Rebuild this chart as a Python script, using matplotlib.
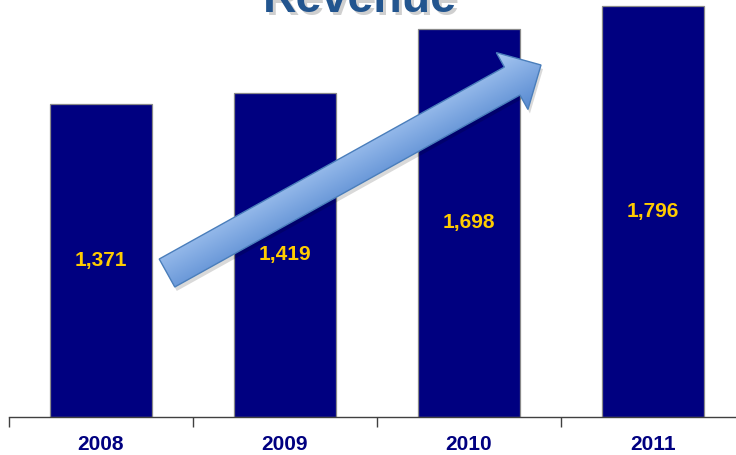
import numpy as np
import matplotlib
matplotlib.use("Agg")
import matplotlib.pyplot as plt
from matplotlib.patches import Polygon

years = ["2008", "2009", "2010", "2011"]
revenue = [1371, 1419, 1698, 1796]
value_labels = ["1,371", "1,419", "1,698", "1,796"]
title = "Revenue"

W, H = 736, 455
fig = plt.figure(figsize=(W / 100, H / 100), dpi=100)
plt.rcParams['font.family'] = ['Liberation Sans', 'DejaVu Sans']

# main axes: category boundaries at x=9..745 px, baseline at y=417 px
ax = fig.add_axes([9 / W, (H - 417) / H, 736 / W, 417 / H])
x = np.arange(len(years))
ax.bar(x, revenue, width=0.555, color='#000080', edgecolor='#8a8a8a', linewidth=0.9, zorder=2)
ax.set_xlim(-0.5, 3.5)
ax.set_ylim(0, 1824)
for xi, v, lab in zip(x, revenue, value_labels):
    ax.text(xi, v / 2, lab, ha='center', va='center', color='#FFCC00',
            fontsize=15, fontweight='bold', zorder=5)

for s in ['top', 'right', 'left']:
    ax.spines[s].set_visible(False)
ax.spines['bottom'].set_color('#404040')
ax.spines['bottom'].set_linewidth(1.0)
ax.set_yticks([])
ax.set_xticks(np.arange(-0.5, 4.0, 1.0))
ax.set_xticklabels([])
ax.set_xticks(x, minor=True)
ax.set_xticklabels(years, minor=True)
ax.tick_params(axis='x', which='major', length=7, width=1.0, color='#404040', direction='out')
ax.tick_params(axis='x', which='minor', length=0, pad=13, labelsize=15, labelcolor='#000080')
for t in ax.get_xticklabels(minor=True):
    t.set_fontweight('bold')

# overlay axes in pixel coordinates for the decorative arrow
ov = fig.add_axes([0, 0, 1, 1])
ov.set_xlim(0, W)
ov.set_ylim(H, 0)
ov.axis('off')

tail = np.array([167.0, 273.0])
tip = np.array([541.0, 65.0])
d = tip - tail
L = np.hypot(*d)
u = d / L
n = np.array([u[1], -u[0]])
shaft_w, head_w, head_l = 32.0, 65.0, 33.0
base = tip - u * head_l
pts = np.array([
    tail + n * shaft_w / 2,
    base + n * shaft_w / 2,
    base + n * head_w / 2,
    tip,
    base - n * head_w / 2,
    base - n * shaft_w / 2,
    tail - n * shaft_w / 2,
])
shadow = Polygon(pts + np.array([2, 4]), closed=True, facecolor='#000000', alpha=0.15,
                 edgecolor='none', zorder=3)
ov.add_patch(shadow)
poly = Polygon(pts, closed=True, facecolor='none', edgecolor='#4a7ebb', linewidth=1.0, zorder=5)
ov.add_patch(poly)

yy, xx = np.mgrid[0:H, 0:W]
proj = ((xx - tail[0]) * n[0] + (yy - tail[1]) * n[1]) / (head_w / 2)
t = np.clip((1 - proj) / 2, 0, 1)
c1 = np.array([0xa8, 0xc8, 0xf2]) / 255
c2 = np.array([0x55, 0x88, 0xd0]) / 255
img = c1[None, None, :] * (1 - t[..., None]) + c2[None, None, :] * t[..., None]
im = ov.imshow(img, extent=(0, W, H, 0), origin='upper', zorder=4, aspect='auto')
im.set_clip_path(poly)

# title, partially cut off at the top
cx = 0.5 * (263 + 457) / W
fig.text(cx + 2.5 / W, 1 - 15 / H, title, ha='center', va='baseline',
         fontsize=33.5, fontweight='bold', color='#b0b0b0', alpha=0.6)
fig.text(cx, 1 - 12 / H, title, ha='center', va='baseline',
         fontsize=33.5, fontweight='bold', color='#22558F')

fig.savefig("out.png", dpi=100)
